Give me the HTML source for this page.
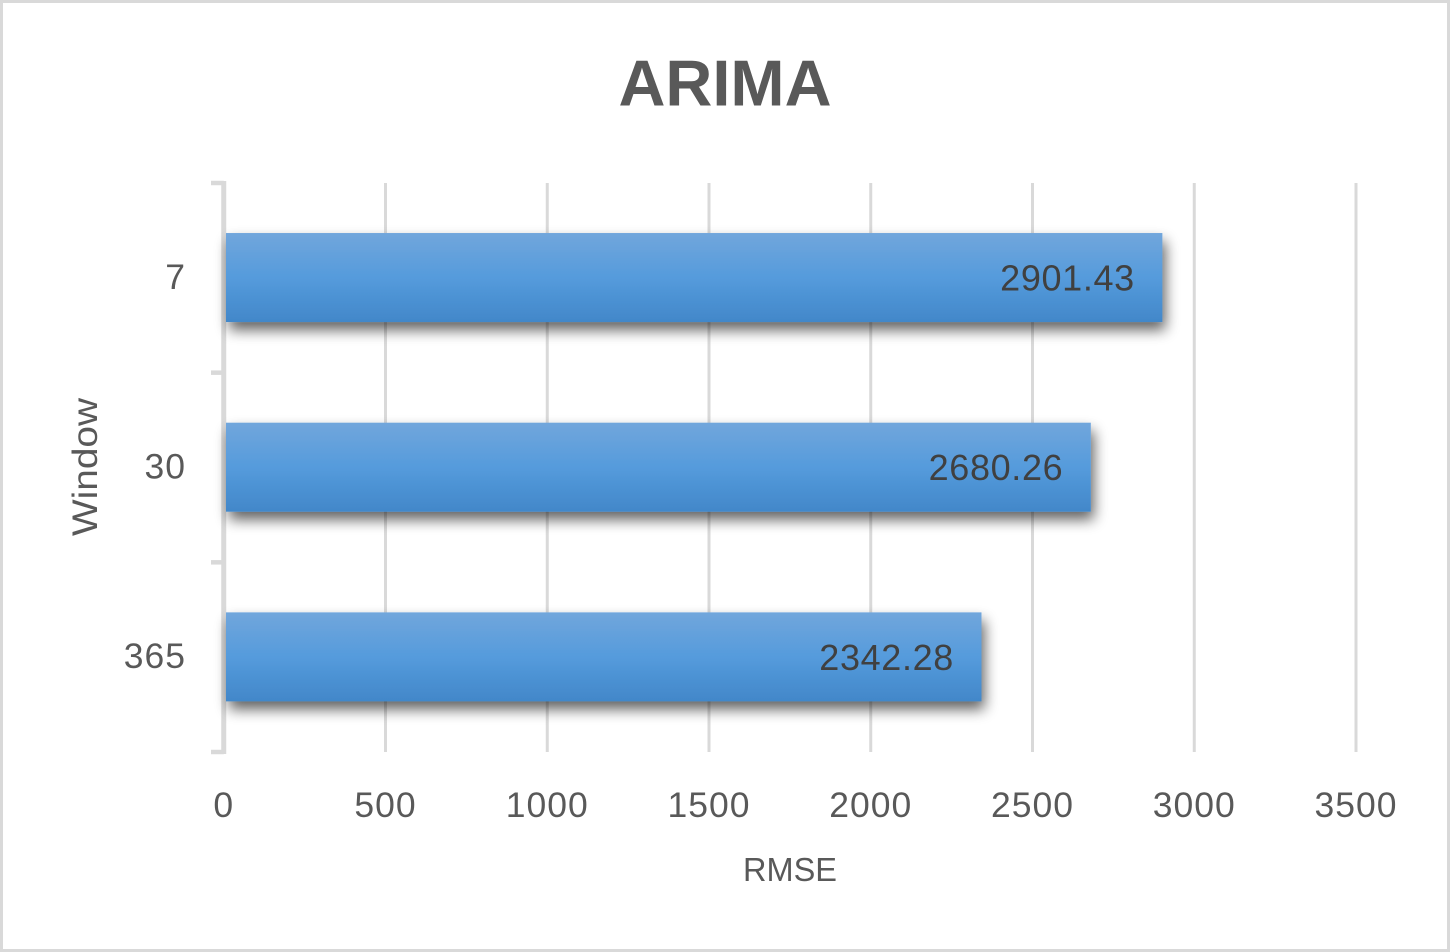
<!DOCTYPE html>
<html>
<head>
<meta charset="utf-8">
<style>
html,body{margin:0;padding:0;background:#fff;width:1450px;height:952px;overflow:hidden}
svg{display:block}
text{font-family:"Liberation Sans",sans-serif}
</style>
</head>
<body>
<svg id="chart" xmlns="http://www.w3.org/2000/svg" width="1450" height="952" viewBox="0 0 1450 952">
  <defs>
    <linearGradient id="barFill" x1="0" y1="0" x2="0" y2="1">
      <stop offset="0" stop-color="#71a6dc"/>
      <stop offset="0.5" stop-color="#559bdc"/>
      <stop offset="1" stop-color="#4287c9"/>
    </linearGradient>
    <filter id="barShadow" x="-5%" y="-25%" width="110%" height="175%">
      <feGaussianBlur in="SourceAlpha" stdDeviation="7"/>
      <feOffset dx="3" dy="8"/>
      <feComponentTransfer><feFuncA type="linear" slope="0.62"/></feComponentTransfer>
      <feMerge><feMergeNode/><feMergeNode in="SourceGraphic"/></feMerge>
    </filter>
  </defs>
  <rect x="1.5" y="1.5" width="1447" height="949" fill="#fff" stroke="#d9d9d9" stroke-width="3"/>
  <text x="725" y="105.5" text-anchor="middle" font-size="65" font-weight="bold" fill="#595959">ARIMA</text>
  <text x="790" y="881" text-anchor="middle" font-size="33" fill="#595959" textLength="94" lengthAdjust="spacingAndGlyphs">RMSE</text>
  <text transform="translate(97,467) rotate(-90)" text-anchor="middle" font-size="35" fill="#595959" textLength="138" lengthAdjust="spacingAndGlyphs">Window</text>
  <g id="grid"></g>
  <g id="axis"></g>
  <g id="bars"></g>
  <g id="labels"></g>
</svg>
<script>
const categories = ['7', '30', '365'];
const seriesValues = [2901.43, 2680.26, 2342.28];
const valueLabels = ['2901.43', '2680.26', '2342.28'];
const xTicks = [0, 500, 1000, 1500, 2000, 2500, 3000, 3500];

const NS = 'http://www.w3.org/2000/svg';
const plot = { left: 223.75, right: 1356, top: 183, bottom: 752, max: 3500 };
const xScale = function (v) { return plot.left + (v / plot.max) * (plot.right - plot.left); };
const bandSize = (plot.bottom - plot.top) / categories.length;
const bandY = function (i) { return plot.top + i * bandSize; };

function make(parent, tag, attrs) {
  const el = document.createElementNS(NS, tag);
  for (const k in attrs) el.setAttribute(k, attrs[k]);
  parent.appendChild(el);
  return el;
}

const grid = document.getElementById('grid');
const axis = document.getElementById('axis');
const bars = document.getElementById('bars');
const labels = document.getElementById('labels');

xTicks.forEach(function (t) {
  if (t !== 0) {
    const line = make(grid, 'line', { x1: xScale(t), x2: xScale(t), y1: plot.top, y2: plot.bottom, stroke: '#d9d9d9', 'stroke-width': 3 });
    
    
  }
  const lab = make(axis, 'text', { x: xScale(t), y: 817, 'text-anchor': 'middle', 'font-size': 35.5, 'letter-spacing': 1, fill: '#595959' });
  
  
  lab.textContent = String(t);
});

const axisLine = make(axis, 'line', { x1: plot.left, x2: plot.left, y1: plot.top - 2, y2: plot.bottom + 2, stroke: '#d9d9d9', 'stroke-width': 5 });



for (let i = 0; i <= categories.length; i++) {
  const tick = make(axis, 'line', { x1: 211, x2: plot.left, y1: bandY(i), y2: bandY(i), stroke: '#d9d9d9', 'stroke-width': 4.5 });
  
  
}

categories.forEach(function (c, i) {
  const lab = make(axis, 'text', { x: 186, y: bandY(i) + bandSize / 2 + 11, 'text-anchor': 'end', 'font-size': 35.5, 'letter-spacing': 1, fill: '#595959' });
  
  
  lab.textContent = c;

  const barH = 89;
  const barTop = bandY(i) + (bandSize - barH) / 2 - 0.3;
  const barRight = xScale(seriesValues[i]);
  const bar = make(bars, 'rect', { x: 226, y: barTop, width: barRight - 226, height: barH, fill: 'url(#barFill)', filter: 'url(#barShadow)' });
  
  

  const val = make(labels, 'text', { x: barRight - 27.5, y: barTop + 57.5, 'text-anchor': 'end', 'font-size': 36, 'letter-spacing': 0.65, fill: '#404040' });
  
  
  val.textContent = valueLabels[i];
});
</script>
</body>
</html>
